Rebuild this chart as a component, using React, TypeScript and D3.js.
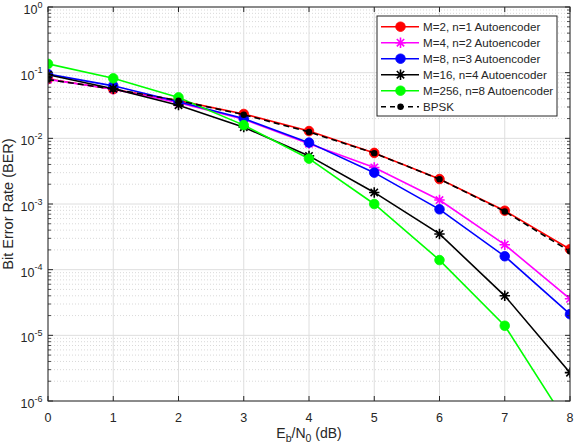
import React, { useEffect, useRef } from 'react';
import * as d3 from 'd3';

// Eb/N0 in dB
const ebN0 = [0, 1, 2, 3, 4, 5, 6, 7, 8];

// BER
const berM2 = [0.08, 0.056, 0.0375, 0.0235, 0.0129, 0.006, 0.0024, 0.00079, 0.000205];
const berM4 = [0.079, 0.056, 0.035, 0.0195, 0.0083, 0.0036, 0.00115, 0.00024, 0.000036];
const berM8 = [0.095, 0.063, 0.036, 0.02, 0.0086, 0.003, 0.00083, 0.00016, 0.000021];
const berM16 = [0.093, 0.057, 0.032, 0.0148, 0.0054, 0.0015, 0.00035, 0.00004, 0.0000027];
const berM256 = [0.136, 0.082, 0.042, 0.0159, 0.0049, 0.001, 0.00014, 0.000014, 0.00000039];
const berBpsk = [0.0786, 0.0563, 0.0375, 0.0229, 0.0125, 0.00595, 0.00239, 0.00077, 0.00019];

const legendLabels = [
  'M=2, n=1 Autoencoder',
  'M=4, n=2 Autoencoder',
  'M=8, n=3 Autoencoder',
  'M=16, n=4 Autoencoder',
  'M=256, n=8 Autoencoder',
  'BPSK',
];

const xTicks = [0, 1, 2, 3, 4, 5, 6, 7, 8];
const yTickExps = [0, -1, -2, -3, -4, -5, -6];

const FONT = '"Liberation Sans", Arial, Helvetica, sans-serif';
const AX = '#262626';

const App = () => {
  const svgRef = useRef<SVGSVGElement>(null);

  useEffect(() => {
    const svg = d3.select(svgRef.current);
    svg.selectAll('*').remove();

    const left = 48, right = 570, top = 7, bottom = 401;
    const x = d3.scaleLinear().domain([0, 8]).range([left, right]);
    const y = d3.scaleLog().domain([1e-6, 1]).range([bottom, top]);

    const series = [
      { data: berM2, color: '#ff0000', marker: 'circle', dash: null },
      { data: berM4, color: '#ff00ff', marker: 'star', dash: null },
      { data: berM8, color: '#0000ff', marker: 'circle', dash: null },
      { data: berM16, color: '#000000', marker: 'star', dash: null },
      { data: berM256, color: '#00ff00', marker: 'circle', dash: null },
      { data: berBpsk, color: '#000000', marker: 'dot', dash: '6,4' },
    ];

    svg.append('rect').attr('x', left).attr('y', top)
      .attr('width', right - left).attr('height', bottom - top).attr('fill', 'white');

    // minor grid (log decades)
    const minor: number[] = [];
    for (let d = -6; d < 0; d++) for (let k = 2; k <= 9; k++) minor.push(k * Math.pow(10, d));
    const grid = svg.append('g');
    minor.forEach(v => {
      grid.append('line')
        .attr('x1', left).attr('x2', right).attr('y1', y(v)).attr('y2', y(v))
        .attr('stroke', '#c8c8c8').attr('stroke-width', 0.7).attr('stroke-dasharray', '1,2');
    });
    yTickExps.forEach(e => {
      grid.append('line')
        .attr('x1', left).attr('x2', right).attr('y1', y(Math.pow(10, e))).attr('y2', y(Math.pow(10, e)))
        .attr('stroke', '#dedede').attr('stroke-width', 1);
    });
    xTicks.forEach(t => {
      grid.append('line')
        .attr('x1', x(t)).attr('x2', x(t)).attr('y1', top).attr('y2', bottom)
        .attr('stroke', '#dedede').attr('stroke-width', 1);
    });

    svg.append('clipPath').attr('id', 'plotclip').append('rect')
      .attr('x', left).attr('y', top).attr('width', right - left).attr('height', bottom - top);

    const line = d3.line<number>()
      .x((d, i) => x(ebN0[i]))
      .y(d => y(d));

    const drawMarker = (g: any, kind: string, cx: number, cy: number, color: string) => {
      if (kind === 'circle') {
        g.append('circle').attr('cx', cx).attr('cy', cy).attr('r', 4.8)
          .attr('fill', color).attr('stroke', color).attr('stroke-width', 0.8);
      } else if (kind === 'dot') {
        g.append('circle').attr('cx', cx).attr('cy', cy).attr('r', 3.2).attr('fill', color);
      } else {
        const r = 5.2;
        const a = r * Math.SQRT1_2;
        g.append('path')
          .attr('d', `M${cx - r},${cy}L${cx + r},${cy}M${cx},${cy - r}L${cx},${cy + r}` +
            `M${cx - a},${cy - a}L${cx + a},${cy + a}M${cx - a},${cy + a}L${cx + a},${cy - a}`)
          .attr('stroke', color).attr('stroke-width', 1.6).attr('fill', 'none');
      }
    };

    const plot = svg.append('g').attr('clip-path', 'url(#plotclip)');
    series.forEach(s => {
      plot.append('path')
        .datum(s.data)
        .attr('fill', 'none')
        .attr('stroke', s.color)
        .attr('stroke-width', 1.6)
        .attr('stroke-dasharray', s.dash)
        .attr('d', line);
      s.data.forEach((v, i) => {
        if (v >= 1e-6) drawMarker(plot, s.marker, x(ebN0[i]), y(v), s.color);
      });
    });

    // axes box and ticks
    const axes = svg.append('g');
    axes.append('rect').attr('x', left).attr('y', top)
      .attr('width', right - left).attr('height', bottom - top)
      .attr('fill', 'none').attr('stroke', AX).attr('stroke-width', 1);

    xTicks.forEach(t => {
      axes.append('line').attr('x1', x(t)).attr('x2', x(t)).attr('y1', bottom).attr('y2', bottom - 5)
        .attr('stroke', AX);
      axes.append('line').attr('x1', x(t)).attr('x2', x(t)).attr('y1', top).attr('y2', top + 5)
        .attr('stroke', AX);
      axes.append('text')
        .attr('x', x(t)).attr('y', bottom + 20.5)
        .attr('text-anchor', 'middle')
        .attr('font-family', FONT).attr('font-size', 12.5).attr('fill', AX)
        .text(t);
    });

    minor.forEach(v => {
      axes.append('line').attr('x1', left).attr('x2', left + 3).attr('y1', y(v)).attr('y2', y(v))
        .attr('stroke', AX).attr('stroke-width', 0.8);
      axes.append('line').attr('x1', right).attr('x2', right - 3).attr('y1', y(v)).attr('y2', y(v))
        .attr('stroke', AX).attr('stroke-width', 0.8);
    });

    yTickExps.forEach(e => {
      const yy = y(Math.pow(10, e));
      axes.append('line').attr('x1', left).attr('x2', left + 5).attr('y1', yy).attr('y2', yy)
        .attr('stroke', AX);
      axes.append('line').attr('x1', right).attr('x2', right - 5).attr('y1', yy).attr('y2', yy)
        .attr('stroke', AX);
      const txt = axes.append('text')
        .attr('x', left - 5.5).attr('y', yy + 7)
        .attr('text-anchor', 'end')
        .attr('font-family', FONT).attr('font-size', 12.5).attr('fill', AX);
      txt.append('tspan').text('10');
      txt.append('tspan').attr('dy', -6.5).attr('font-size', 9).text(String(e));
    });

    // axis labels
    const xl = svg.append('text')
      .attr('x', (left + right) / 2).attr('y', 438)
      .attr('text-anchor', 'middle')
      .attr('font-family', FONT).attr('font-size', 14).attr('fill', AX);
    xl.append('tspan').text('E');
    xl.append('tspan').attr('dy', 4).attr('font-size', 10.5).text('b');
    xl.append('tspan').attr('dy', -4).text('/N');
    xl.append('tspan').attr('dy', 4).attr('font-size', 10.5).text('0');
    xl.append('tspan').attr('dy', -4).text(' (dB)');

    svg.append('text')
      .attr('transform', `translate(13,${(top + bottom) / 2}) rotate(-90)`)
      .attr('text-anchor', 'middle')
      .attr('font-family', FONT).attr('font-size', 14.5).attr('fill', AX)
      .text('Bit Error Rate (BER)');

    // legend
    const lg = svg.append('g');
    lg.append('rect').attr('x', 377).attr('y', 16).attr('width', 180).attr('height', 100)
      .attr('fill', 'white').attr('stroke', AX).attr('stroke-width', 1);
    series.forEach((s, i) => {
      const ly = 26.7 + i * 16;
      lg.append('line').attr('x1', 381).attr('x2', 419).attr('y1', ly).attr('y2', ly)
        .attr('stroke', s.color).attr('stroke-width', 1.6).attr('stroke-dasharray', s.dash ? '5,4' : null);
      drawMarker(lg, s.marker, 400.5, ly, s.color);
      lg.append('text')
        .attr('x', 423).attr('y', ly + 4.2)
        .attr('font-family', FONT).attr('font-size', 11.6).attr('fill', AX)
        .text(legendLabels[i]);
    });
  }, []);

  return (
    <svg
      ref={svgRef}
      width={580}
      height={443}
      style={{ position: 'absolute', left: 0, top: 0, background: 'white' }}
    />
  );
};

export default App;
